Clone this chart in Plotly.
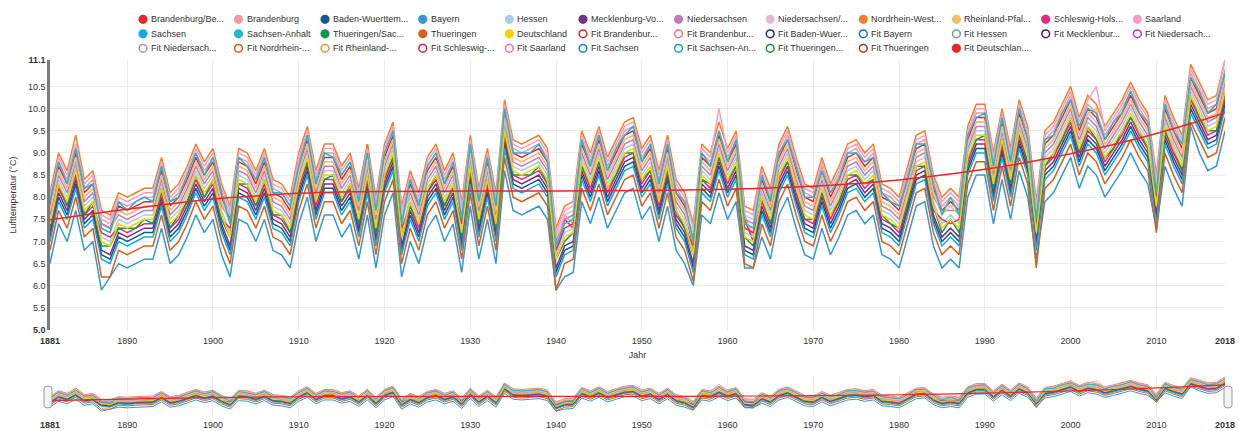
import plotly.graph_objects as go

years = list(range(1881, 2019))

brandenburg_berlin = [
 7.8, 8.7, 8.3, 9.0, 8.1, 8.3, 7.4, 7.3, 7.8, 7.7,
 7.8, 7.9, 7.9, 8.6, 7.8, 8.0, 8.4, 8.9, 8.5, 8.8,
 8.0, 7.5, 8.8, 8.7, 8.3, 8.8, 8.1, 8.0, 7.7, 8.7,
 9.3, 8.3, 8.9, 8.9, 8.4, 8.7, 7.9, 9.2, 7.7, 8.9,
 9.4, 7.5, 8.3, 7.8, 8.6, 8.9, 8.3, 8.7, 7.6, 9.1,
 7.9, 8.8, 7.8, 9.9, 9.0, 8.9, 9.0, 9.1, 8.8, 6.6,
 7.5, 7.3, 9.2, 8.7, 9.3, 8.6, 9.0, 9.4, 9.5, 8.8,
 9.1, 8.3, 9.1, 8.1, 7.8, 6.8, 8.9, 8.7, 9.4, 8.8,
 9.2, 7.5, 7.0, 8.4, 7.9, 8.9, 9.3, 8.6, 8.0, 7.9,
 8.6, 8.0, 8.4, 8.9, 9.0, 8.7, 8.9, 8.0, 7.9, 7.7,
 8.4, 9.1, 9.2, 8.2, 7.7, 7.9, 7.7, 9.3, 9.8, 9.8,
 8.7, 9.7, 8.8, 9.9, 9.3, 7.2, 9.2, 9.4, 9.8, 10.2,
 9.5, 10.0, 9.8, 9.3, 9.6, 9.9, 10.3, 9.9, 9.6, 8.2,
 10.0, 9.5, 9.1, 10.7, 10.3, 9.9, 10.0, 10.8]

brandenburg = [
 7.9, 8.8, 8.4, 9.1, 8.2, 8.4, 7.5, 7.4, 7.9, 7.8,
 7.9, 8.0, 8.0, 8.7, 7.9, 8.1, 8.5, 9.0, 8.6, 8.9,
 8.1, 7.6, 8.9, 8.8, 8.4, 8.9, 8.2, 8.1, 7.8, 8.8,
 9.4, 8.4, 9.0, 9.0, 8.5, 8.8, 8.0, 9.0, 7.8, 9.0,
 9.5, 7.6, 8.4, 7.9, 8.7, 9.0, 8.4, 8.8, 7.7, 9.2,
 8.0, 8.9, 7.9, 10.0, 9.1, 9.0, 9.1, 9.2, 8.9, 6.7,
 7.6, 7.4, 9.3, 8.8, 9.4, 8.7, 9.1, 9.5, 9.6, 8.9,
 9.2, 8.4, 9.2, 8.2, 7.9, 6.9, 9.0, 8.8, 9.5, 8.9,
 9.3, 7.6, 7.1, 8.5, 8.0, 9.0, 9.4, 8.7, 8.1, 8.0,
 8.7, 8.1, 8.5, 9.0, 9.1, 8.8, 9.0, 8.1, 8.0, 7.8,
 8.5, 9.2, 9.3, 8.3, 7.8, 8.0, 7.8, 9.4, 9.9, 9.9,
 8.8, 9.8, 8.9, 10.0, 9.4, 7.3, 9.3, 9.5, 9.9, 10.3,
 9.6, 10.1, 9.9, 9.4, 9.7, 10.0, 10.4, 10.0, 9.7, 8.3,
 10.1, 9.6, 9.2, 10.8, 10.4, 10.0, 10.1, 10.9]

baden_wuerttemberg = [
 7.1, 8.0, 7.6, 8.3, 7.4, 7.6, 6.7, 6.6, 7.1, 7.0,
 7.1, 7.2, 7.2, 7.9, 7.1, 7.3, 7.7, 8.2, 7.8, 8.1,
 7.3, 6.8, 8.1, 8.0, 7.6, 8.1, 7.4, 7.3, 7.0, 8.0,
 8.6, 7.6, 8.2, 8.2, 7.7, 8.0, 7.2, 8.2, 7.0, 8.2,
 8.7, 6.8, 7.6, 7.1, 7.9, 8.2, 7.6, 8.0, 6.9, 8.4,
 7.2, 8.1, 7.1, 9.2, 8.3, 8.2, 8.3, 8.4, 8.1, 6.3,
 6.8, 6.9, 8.5, 8.0, 8.6, 7.9, 8.3, 8.7, 8.8, 8.1,
 8.4, 7.6, 8.4, 7.4, 7.1, 6.4, 8.2, 8.0, 8.7, 8.1,
 8.5, 6.8, 6.7, 7.7, 7.2, 8.2, 8.6, 7.9, 7.3, 7.2,
 7.9, 7.3, 7.7, 8.2, 8.3, 8.0, 8.2, 7.3, 7.2, 7.0,
 7.7, 8.4, 8.5, 7.5, 7.0, 7.2, 7.0, 8.6, 9.1, 9.1,
 8.0, 9.0, 8.1, 9.2, 8.6, 6.9, 8.5, 8.7, 9.1, 9.5,
 8.8, 9.3, 9.1, 8.6, 8.9, 9.2, 9.6, 9.2, 8.9, 7.5,
 9.3, 8.8, 8.4, 10.0, 9.6, 9.2, 9.3, 10.1]

bayern = [
 6.5, 7.4, 7.0, 7.7, 6.8, 7.0, 5.9, 6.2, 6.5, 6.4,
 6.5, 6.6, 6.6, 7.3, 6.5, 6.7, 7.1, 7.6, 7.2, 7.5,
 6.7, 6.2, 7.5, 7.4, 7.0, 7.5, 6.8, 6.7, 6.4, 7.4,
 8.0, 7.0, 7.6, 7.6, 7.1, 7.4, 6.6, 7.6, 6.4, 7.6,
 8.1, 6.2, 7.0, 6.5, 7.3, 7.6, 7.0, 7.4, 6.3, 7.8,
 6.6, 7.5, 6.5, 8.6, 7.7, 7.6, 7.7, 7.8, 7.5, 5.9,
 6.2, 6.3, 7.9, 7.4, 8.0, 7.3, 7.7, 8.1, 8.2, 7.5,
 7.8, 7.0, 7.8, 6.8, 6.5, 6.0, 7.6, 7.4, 8.1, 7.5,
 7.9, 6.4, 6.4, 7.1, 6.6, 7.6, 8.0, 7.3, 6.7, 6.6,
 7.3, 6.7, 7.1, 7.6, 7.7, 7.4, 7.6, 6.7, 6.6, 6.4,
 7.1, 7.8, 7.9, 6.9, 6.4, 6.6, 6.4, 8.0, 8.5, 8.5,
 7.4, 8.4, 7.5, 8.6, 8.0, 6.6, 7.9, 8.1, 8.5, 8.9,
 8.2, 8.7, 8.5, 8.0, 8.3, 8.6, 9.0, 8.6, 8.3, 7.3,
 8.7, 8.2, 7.8, 9.6, 9.0, 8.6, 8.7, 9.5]

hessen = [
 7.5, 8.4, 8.0, 8.7, 7.8, 8.0, 7.1, 7.0, 7.5, 7.4,
 7.5, 7.6, 7.6, 8.3, 7.5, 7.7, 8.1, 8.6, 8.2, 8.5,
 7.7, 7.2, 8.5, 8.4, 8.0, 8.5, 7.8, 7.7, 7.4, 8.4,
 9.0, 8.0, 8.6, 8.6, 8.1, 8.4, 7.6, 8.6, 7.4, 8.6,
 9.1, 7.2, 8.0, 7.5, 8.3, 8.6, 8.0, 8.4, 7.3, 8.8,
 7.6, 8.5, 7.5, 9.6, 8.7, 8.6, 8.7, 8.8, 8.5, 6.7,
 7.2, 7.3, 8.9, 8.4, 9.0, 8.3, 8.7, 9.1, 9.2, 8.5,
 8.8, 8.0, 8.8, 7.8, 7.5, 6.8, 8.6, 8.4, 9.1, 8.5,
 8.9, 7.2, 7.1, 8.1, 7.6, 8.6, 9.0, 8.3, 7.7, 7.6,
 8.3, 7.7, 8.1, 8.6, 8.7, 8.4, 8.6, 7.7, 7.6, 7.4,
 8.1, 8.8, 8.9, 7.9, 7.4, 7.6, 7.4, 9.0, 9.5, 9.5,
 8.4, 9.4, 8.5, 9.6, 9.0, 7.3, 8.9, 9.1, 9.5, 9.9,
 9.2, 9.7, 9.5, 9.0, 9.3, 9.6, 10.0, 9.6, 9.3, 7.9,
 9.7, 9.2, 8.8, 10.4, 10.0, 9.6, 9.7, 10.5]

mecklenburg_vorpommern = [
 7.2, 8.1, 7.7, 8.4, 7.5, 7.7, 6.8, 6.7, 7.2, 7.1,
 7.2, 7.3, 7.3, 8.0, 7.2, 7.4, 7.8, 8.3, 7.9, 8.2,
 7.4, 6.9, 8.2, 8.1, 7.7, 8.2, 7.5, 7.4, 7.1, 8.1,
 8.7, 7.7, 8.3, 8.3, 7.8, 8.1, 7.3, 8.3, 7.1, 8.3,
 8.8, 6.9, 7.7, 7.2, 8.0, 8.3, 7.7, 8.1, 7.0, 8.5,
 7.3, 8.2, 7.2, 9.3, 8.4, 8.3, 8.4, 8.5, 8.2, 6.4,
 6.9, 7.0, 8.6, 8.1, 8.7, 8.0, 8.4, 8.8, 8.9, 8.2,
 8.5, 7.7, 8.5, 7.5, 7.2, 6.5, 8.3, 8.1, 8.8, 8.2,
 8.6, 6.9, 6.8, 7.8, 7.3, 8.3, 8.7, 8.0, 7.4, 7.3,
 8.0, 7.4, 7.8, 8.3, 8.4, 8.1, 8.3, 7.4, 7.3, 7.1,
 7.8, 8.5, 8.6, 7.6, 7.1, 7.3, 7.1, 8.7, 9.2, 9.2,
 8.1, 9.1, 8.2, 9.3, 8.7, 7.0, 8.6, 8.8, 9.2, 9.6,
 8.9, 9.4, 9.2, 8.7, 9.0, 9.3, 9.7, 9.3, 9.0, 7.6,
 9.4, 8.9, 8.5, 10.1, 9.7, 9.3, 9.4, 10.2]

niedersachsen = [
 7.6, 8.5, 8.1, 8.8, 7.9, 8.1, 7.4, 7.3, 7.6, 7.5,
 7.6, 7.7, 7.7, 8.4, 7.6, 7.8, 8.2, 8.7, 8.3, 8.6,
 7.8, 7.5, 8.6, 8.5, 8.1, 8.6, 7.9, 7.8, 7.5, 8.5,
 9.1, 8.1, 8.7, 8.7, 8.2, 8.5, 7.7, 8.7, 7.5, 8.7,
 9.2, 7.5, 8.1, 7.6, 8.4, 8.7, 8.1, 8.5, 7.6, 8.9,
 7.7, 8.6, 7.6, 9.7, 8.8, 8.7, 8.8, 8.9, 8.6, 7.0,
 7.5, 7.6, 9.0, 8.5, 9.1, 8.4, 8.8, 9.2, 9.3, 8.6,
 8.9, 8.1, 8.9, 7.9, 7.6, 7.1, 8.7, 8.5, 9.2, 8.6,
 9.0, 7.5, 7.4, 8.2, 7.7, 8.7, 9.1, 8.4, 7.8, 7.7,
 8.4, 7.8, 8.2, 8.7, 8.8, 8.5, 8.7, 7.8, 7.7, 7.5,
 8.2, 8.9, 9.0, 8.0, 7.7, 7.7, 7.7, 9.1, 9.6, 9.6,
 8.5, 9.5, 8.6, 9.7, 9.1, 7.6, 9.0, 9.2, 9.6, 10.0,
 9.3, 9.8, 9.6, 9.1, 9.4, 9.7, 10.1, 9.7, 9.4, 8.2,
 9.8, 9.3, 8.9, 10.5, 10.1, 9.7, 9.8, 10.6]

niedersachsen_hamburg_bremen = [
 7.7, 8.6, 8.2, 8.9, 8.0, 8.2, 7.5, 7.4, 7.7, 7.6,
 7.7, 7.8, 7.8, 8.5, 7.7, 7.9, 8.3, 8.8, 8.4, 8.7,
 7.9, 7.6, 8.7, 8.6, 8.2, 8.7, 8.0, 7.9, 7.6, 8.6,
 9.2, 8.2, 8.8, 8.8, 8.3, 8.6, 7.8, 8.8, 7.6, 8.8,
 9.3, 7.6, 8.2, 7.7, 8.5, 8.8, 8.2, 8.6, 7.7, 9.0,
 7.8, 8.7, 7.7, 9.8, 8.9, 8.8, 8.9, 9.0, 8.7, 7.1,
 7.6, 7.7, 9.1, 8.6, 9.2, 8.5, 8.9, 9.3, 9.4, 8.7,
 9.0, 8.2, 9.0, 8.0, 7.7, 7.2, 8.8, 8.6, 9.3, 8.7,
 9.1, 7.6, 7.5, 8.3, 7.8, 8.8, 9.2, 8.5, 7.9, 7.8,
 8.5, 7.9, 8.3, 8.8, 8.9, 8.6, 8.8, 7.9, 7.8, 7.6,
 8.3, 9.0, 9.1, 8.1, 7.8, 7.8, 7.8, 9.2, 9.7, 9.7,
 8.6, 9.6, 8.7, 9.8, 9.2, 7.7, 9.1, 9.3, 9.7, 10.1,
 9.4, 9.9, 9.7, 9.2, 9.5, 9.8, 10.2, 9.8, 9.5, 8.3,
 9.9, 9.4, 9.0, 10.6, 10.2, 9.8, 9.9, 10.7]

nordrhein_westfalen = [
 8.1, 9.0, 8.6, 9.4, 8.4, 8.6, 7.7, 7.6, 8.1, 8.0,
 8.1, 8.2, 8.2, 8.9, 8.1, 8.3, 8.7, 9.2, 8.8, 9.1,
 8.3, 7.8, 9.1, 9.0, 8.6, 9.1, 8.4, 8.3, 8.0, 9.0,
 9.6, 8.6, 9.2, 9.2, 8.7, 9.0, 8.2, 9.2, 8.0, 9.2,
 9.7, 7.8, 8.6, 8.1, 8.9, 9.2, 8.6, 9.0, 7.9, 9.4,
 8.2, 9.1, 8.1, 10.2, 9.3, 9.2, 9.3, 9.4, 9.1, 7.3,
 7.8, 7.9, 9.5, 9.0, 9.6, 8.9, 9.3, 9.7, 9.8, 9.1,
 9.4, 8.6, 9.4, 8.4, 8.1, 7.4, 9.2, 9.0, 9.7, 9.1,
 9.5, 7.8, 7.7, 8.7, 8.2, 9.2, 9.6, 8.9, 8.3, 8.2,
 8.9, 8.3, 8.7, 9.2, 9.3, 9.0, 9.2, 8.3, 8.2, 8.0,
 8.7, 9.4, 9.5, 8.5, 8.0, 8.2, 8.0, 9.6, 10.1, 10.1,
 9.0, 10.0, 9.1, 10.2, 9.6, 7.9, 9.5, 9.7, 10.1, 10.5,
 9.8, 10.3, 10.1, 9.6, 9.9, 10.2, 10.6, 10.2, 9.9, 8.5,
 10.3, 9.8, 9.4, 11.0, 10.6, 10.2, 10.3, 11.1]

rheinland_pfalz = [
 7.7, 8.6, 8.2, 8.9, 8.0, 8.2, 7.3, 7.2, 7.7, 7.6,
 7.7, 7.8, 7.8, 8.5, 7.7, 7.9, 8.3, 8.8, 8.4, 8.7,
 7.9, 7.4, 8.7, 8.6, 8.2, 8.7, 8.0, 7.9, 7.6, 8.6,
 9.2, 8.2, 8.8, 8.8, 8.3, 8.6, 7.8, 8.8, 7.6, 8.8,
 9.3, 7.4, 8.2, 7.7, 8.5, 8.8, 8.2, 8.6, 7.5, 9.0,
 7.8, 8.7, 7.7, 9.8, 8.9, 8.8, 8.9, 9.0, 8.7, 7.1,
 7.4, 7.5, 9.1, 8.6, 9.2, 8.5, 8.9, 9.3, 9.4, 8.7,
 9.0, 8.2, 9.0, 8.0, 7.7, 7.0, 8.8, 8.6, 9.3, 8.7,
 9.1, 7.4, 7.3, 8.3, 7.8, 8.8, 9.2, 8.5, 7.9, 7.8,
 8.5, 7.9, 8.3, 8.8, 8.9, 8.6, 8.8, 7.9, 7.8, 7.6,
 8.3, 9.0, 9.1, 8.1, 7.6, 7.8, 7.6, 9.2, 9.7, 9.7,
 8.6, 9.6, 8.7, 9.8, 9.2, 7.5, 9.1, 9.3, 9.7, 10.1,
 9.4, 9.9, 10.0, 9.2, 9.5, 9.8, 10.2, 9.8, 9.5, 8.1,
 9.9, 9.4, 9.0, 10.6, 10.2, 9.8, 9.9, 10.7]

schleswig_holstein = [
 7.3, 8.2, 7.8, 8.5, 7.6, 7.8, 7.2, 7.1, 7.3, 7.2,
 7.3, 7.4, 7.4, 8.1, 7.3, 7.5, 7.9, 8.4, 8.0, 8.3,
 7.5, 7.3, 8.3, 8.2, 7.8, 8.3, 7.6, 7.5, 7.2, 8.2,
 8.8, 7.8, 8.4, 8.4, 7.9, 8.2, 7.4, 8.4, 7.2, 8.4,
 8.9, 7.3, 7.8, 7.3, 8.1, 8.4, 7.8, 8.2, 7.4, 8.6,
 7.4, 8.3, 7.3, 9.4, 8.5, 8.4, 8.5, 8.6, 8.3, 6.8,
 7.3, 7.4, 8.7, 8.2, 8.8, 8.1, 8.5, 8.9, 9.0, 8.3,
 8.6, 7.8, 8.6, 7.6, 7.3, 6.9, 8.4, 8.2, 8.9, 8.3,
 8.7, 7.3, 7.2, 7.9, 7.4, 8.4, 8.8, 8.1, 7.5, 7.4,
 8.1, 7.5, 7.9, 8.4, 8.5, 8.2, 8.4, 7.5, 7.4, 7.2,
 7.9, 8.6, 8.7, 7.7, 7.5, 7.4, 7.5, 8.8, 9.3, 9.3,
 8.2, 9.2, 8.3, 9.4, 8.8, 7.4, 8.7, 8.9, 9.3, 9.7,
 9.0, 9.5, 9.3, 8.8, 9.1, 9.4, 9.8, 9.4, 9.1, 8.0,
 9.5, 9.0, 8.6, 10.2, 9.8, 9.4, 9.5, 10.3]

saarland = [
 8.0, 8.9, 8.5, 9.2, 8.3, 8.5, 7.6, 7.5, 8.0, 7.9,
 8.0, 8.1, 8.1, 8.8, 8.0, 8.2, 8.6, 9.1, 8.7, 9.0,
 8.2, 7.7, 9.0, 8.9, 8.5, 9.0, 8.3, 8.2, 7.9, 8.9,
 9.5, 8.5, 9.1, 9.1, 8.6, 8.9, 8.1, 9.1, 7.9, 9.1,
 9.6, 7.7, 8.5, 8.0, 8.8, 9.1, 8.5, 8.9, 7.8, 9.3,
 8.1, 9.0, 8.0, 10.1, 9.2, 9.1, 9.2, 9.3, 9.0, 7.2,
 7.7, 7.8, 9.4, 8.9, 9.5, 8.8, 9.2, 9.6, 9.7, 9.0,
 9.3, 8.5, 9.3, 8.3, 8.0, 7.3, 9.1, 8.9, 10.0, 9.0,
 9.4, 7.7, 7.6, 8.6, 8.1, 9.1, 9.5, 8.8, 8.2, 8.1,
 8.8, 8.2, 8.6, 9.1, 9.2, 8.9, 9.1, 8.2, 8.1, 7.9,
 8.6, 9.3, 9.4, 8.4, 7.9, 8.1, 7.9, 9.5, 10.0, 10.0,
 8.9, 9.9, 9.0, 10.1, 9.5, 7.8, 9.4, 9.6, 10.0, 10.4,
 9.7, 10.2, 10.5, 9.5, 9.8, 10.1, 10.5, 10.1, 9.8, 8.4,
 10.2, 9.7, 9.3, 10.9, 10.5, 10.1, 10.2, 11.1]

sachsen = [
 7.0, 7.9, 7.5, 8.2, 7.3, 7.5, 6.6, 6.5, 7.0, 6.9,
 7.0, 7.1, 7.1, 7.8, 7.0, 7.2, 7.6, 8.1, 7.7, 8.0,
 7.2, 6.7, 8.0, 7.9, 7.5, 8.0, 7.3, 7.2, 6.9, 7.9,
 8.5, 7.5, 8.1, 8.1, 7.6, 7.9, 7.1, 8.1, 6.9, 8.1,
 8.6, 6.7, 7.5, 7.0, 7.8, 8.1, 7.5, 7.9, 6.8, 8.3,
 7.1, 8.0, 7.0, 9.1, 8.2, 8.1, 8.2, 8.3, 8.0, 6.2,
 6.7, 6.8, 8.4, 7.9, 8.5, 7.8, 8.2, 8.6, 8.7, 8.0,
 8.3, 7.5, 8.3, 7.3, 7.0, 6.3, 8.1, 7.9, 8.6, 8.0,
 8.4, 6.7, 6.6, 7.6, 7.1, 8.1, 8.5, 7.8, 7.2, 7.1,
 7.8, 7.2, 7.6, 8.1, 8.2, 7.9, 8.1, 7.2, 7.1, 6.9,
 7.6, 8.3, 8.4, 7.4, 6.9, 7.1, 6.9, 8.5, 9.0, 9.0,
 7.9, 8.9, 8.0, 9.1, 8.5, 6.8, 8.4, 8.6, 9.0, 9.4,
 8.7, 9.2, 9.0, 8.5, 8.8, 9.1, 9.5, 9.1, 8.8, 7.4,
 9.2, 8.7, 8.3, 9.9, 9.5, 9.1, 9.2, 10.0]

sachsen_anhalt = [
 7.9, 8.8, 8.3, 9.1, 8.2, 8.3, 7.3, 7.2, 7.9, 7.7,
 7.9, 8.0, 7.9, 8.7, 7.9, 8.0, 8.5, 9.0, 8.5, 8.9,
 8.1, 7.4, 8.9, 8.7, 8.4, 8.9, 8.1, 8.1, 7.8, 8.7,
 9.4, 8.3, 9.0, 8.9, 8.5, 8.8, 7.9, 9.0, 7.7, 9.0,
 9.5, 7.4, 8.4, 7.8, 8.7, 9.0, 8.3, 8.8, 7.5, 9.2,
 7.9, 8.9, 7.8, 10.0, 9.0, 9.0, 9.0, 9.2, 8.8, 6.9,
 7.4, 7.5, 9.3, 8.7, 9.4, 8.6, 9.1, 9.4, 9.6, 8.8,
 9.2, 8.3, 9.2, 8.1, 7.9, 7.0, 9.0, 8.7, 9.5, 8.8,
 9.3, 7.4, 7.3, 8.5, 7.9, 9.0, 9.3, 8.7, 8.0, 8.0,
 8.6, 8.1, 8.4, 9.0, 9.0, 8.8, 8.9, 8.1, 7.9, 7.8,
 8.4, 9.2, 9.2, 8.3, 7.6, 8.0, 7.6, 9.4, 9.8, 9.9,
 8.7, 9.8, 8.8, 10.0, 9.3, 7.5, 9.3, 9.4, 9.9, 10.2,
 9.6, 10.0, 9.9, 9.3, 9.7, 9.9, 10.4, 9.9, 9.7, 8.1,
 10.1, 9.5, 9.2, 10.7, 10.4, 9.9, 10.1, 10.8]

thueringen_sachsen_anhalt = [
 7.3, 8.3, 7.8, 8.6, 7.6, 7.9, 6.9, 6.9, 7.3, 7.3,
 7.3, 7.5, 7.4, 8.2, 7.3, 7.6, 7.9, 8.5, 8.0, 8.4,
 7.5, 7.1, 8.3, 8.3, 7.8, 8.4, 7.6, 7.6, 7.2, 8.3,
 8.8, 7.9, 8.4, 8.5, 7.9, 8.3, 7.4, 8.5, 7.2, 8.5,
 8.9, 7.1, 7.8, 7.4, 8.1, 8.5, 7.8, 8.3, 7.1, 8.7,
 7.4, 8.4, 7.3, 9.5, 8.5, 8.5, 8.5, 8.7, 8.3, 6.6,
 7.0, 7.2, 8.7, 8.3, 8.8, 8.2, 8.5, 9.0, 9.0, 8.4,
 8.6, 7.9, 8.6, 7.7, 7.3, 6.7, 8.4, 8.3, 8.9, 8.4,
 8.7, 7.1, 6.9, 8.0, 7.4, 8.5, 8.8, 8.2, 7.5, 7.5,
 8.1, 7.6, 7.9, 8.5, 8.5, 8.3, 8.4, 7.6, 7.4, 7.3,
 7.9, 8.7, 8.7, 7.8, 7.2, 7.5, 7.2, 8.9, 9.3, 9.4,
 8.2, 9.3, 8.3, 9.5, 8.8, 7.2, 8.7, 9.0, 9.3, 9.8,
 9.0, 9.6, 9.3, 8.9, 9.1, 9.5, 9.8, 9.5, 9.1, 7.8,
 9.5, 9.1, 8.6, 10.3, 9.8, 9.5, 9.5, 10.4]

thueringen = [
 6.8, 7.7, 7.3, 8.0, 7.1, 7.3, 6.2, 6.2, 6.8, 6.7,
 6.8, 6.9, 6.9, 7.6, 6.8, 7.0, 7.4, 7.9, 7.5, 7.8,
 7.0, 6.5, 7.8, 7.7, 7.3, 7.8, 7.1, 7.0, 6.7, 7.7,
 8.3, 7.3, 7.9, 7.9, 7.4, 7.7, 6.9, 7.9, 6.7, 7.9,
 8.4, 6.5, 7.3, 6.8, 7.6, 7.9, 7.3, 7.7, 6.6, 8.1,
 6.9, 7.8, 6.8, 8.9, 8.0, 7.9, 8.0, 8.1, 7.8, 5.9,
 6.5, 6.6, 8.2, 7.7, 8.3, 7.6, 8.0, 8.4, 8.5, 7.8,
 8.1, 7.3, 8.1, 7.1, 6.8, 6.1, 7.9, 7.7, 8.4, 7.8,
 8.2, 6.5, 6.4, 7.4, 6.9, 7.9, 8.3, 7.6, 7.0, 6.9,
 7.6, 7.0, 7.4, 7.9, 8.0, 7.7, 7.9, 7.0, 6.9, 6.7,
 7.4, 8.1, 8.2, 7.2, 6.7, 6.9, 6.7, 8.3, 8.8, 8.8,
 7.7, 8.7, 7.8, 8.9, 8.3, 6.4, 8.2, 8.4, 8.8, 9.2,
 8.5, 9.0, 8.8, 8.3, 8.6, 8.9, 9.3, 8.9, 8.6, 7.2,
 9.0, 8.5, 8.1, 9.7, 9.3, 8.9, 9.0, 9.8]

deutschland = [
 7.4, 8.3, 7.9, 8.6, 7.7, 7.9, 7.0, 6.9, 7.4, 7.3,
 7.4, 7.5, 7.5, 8.2, 7.4, 7.6, 8.0, 8.5, 8.1, 8.4,
 7.6, 7.1, 8.4, 8.3, 7.9, 8.4, 7.7, 7.6, 7.3, 8.3,
 8.9, 7.9, 8.5, 8.5, 8.0, 8.3, 7.5, 8.5, 7.3, 8.5,
 9.0, 7.1, 7.9, 7.4, 8.2, 8.5, 7.9, 8.3, 7.2, 8.7,
 7.5, 8.4, 7.4, 9.5, 8.6, 8.5, 8.6, 8.7, 8.4, 6.6,
 7.1, 7.2, 8.8, 8.3, 8.9, 8.2, 8.6, 9.0, 9.1, 8.4,
 8.7, 7.9, 8.7, 7.7, 7.4, 6.7, 8.5, 8.3, 9.0, 8.4,
 8.8, 7.1, 7.0, 8.0, 7.5, 8.5, 8.9, 8.2, 7.6, 7.5,
 8.2, 7.6, 8.0, 8.5, 8.6, 8.3, 8.5, 7.6, 7.5, 7.3,
 8.0, 8.7, 8.8, 7.8, 7.3, 7.5, 7.3, 8.9, 9.4, 9.4,
 8.3, 9.3, 8.4, 9.5, 8.9, 7.2, 8.8, 9.0, 9.4, 9.8,
 9.1, 9.6, 9.4, 8.9, 9.2, 9.5, 9.9, 9.5, 9.2, 7.8,
 9.6, 9.1, 8.7, 10.3, 9.9, 9.5, 9.6, 10.4]

fit_years = [1881, 1885, 1890, 1895, 1900, 1905, 1910, 1915, 1920, 1930, 1940,
             1950, 1960, 1965, 1970, 1975, 1980, 1985, 1990, 1995, 2000, 2005,
             2010, 2015, 2018]
fit_deutschland = [7.49, 7.60, 7.73, 7.85, 7.96, 8.03, 8.09, 8.12, 8.13, 8.14, 8.14,
                   8.15, 8.18, 8.21, 8.25, 8.31, 8.39, 8.50, 8.63, 8.79, 8.98, 9.19,
                   9.44, 9.72, 9.91]

series_names = ["Brandenburg/Berlin", "Brandenburg", "Baden-Wuerttemberg", "Bayern", "Hessen",
                "Mecklenburg-Vorpommern", "Niedersachsen", "Niedersachsen/Hamburg/Bremen",
                "Nordrhein-Westfalen", "Rheinland-Pfalz", "Schleswig-Holstein", "Saarland",
                "Sachsen", "Sachsen-Anhalt", "Thueringen/Sachsen-Anhalt", "Thueringen", "Deutschland"]
series_values = [brandenburg_berlin, brandenburg, baden_wuerttemberg, bayern, hessen,
                 mecklenburg_vorpommern, niedersachsen, niedersachsen_hamburg_bremen,
                 nordrhein_westfalen, rheinland_pfalz, schleswig_holstein, saarland,
                 sachsen, sachsen_anhalt, thueringen_sachsen_anhalt, thueringen, deutschland]
series_colors = ["#e7262e", "#f29a9b", "#135a8b", "#3399d4", "#a9cde9", "#7b2f7f", "#c47ab8",
                 "#e3b8d8", "#f07f2c", "#f9b96f", "#e5297f", "#f49ec4", "#14aae3", "#1cb9d4",
                 "#0e9a4a", "#d4601e", "#f8d000"]

legend_labels = ["Brandenburg/Be...", "Brandenburg", "Baden-Wuerttem...", "Bayern", "Hessen",
                 "Mecklenburg-Vo...", "Niedersachsen", "Niedersachsen/...", "Nordrhein-West...",
                 "Rheinland-Pfal...", "Schleswig-Hols...", "Saarland",
                 "Sachsen", "Sachsen-Anhalt", "Thueringen/Sac...", "Thueringen", "Deutschland",
                 "Fit Brandenbur...", "Fit Brandenbur...", "Fit Baden-Wuer...", "Fit Bayern",
                 "Fit Hessen", "Fit Mecklenbur...", "Fit Niedersach...",
                 "Fit Niedersach...", "Fit Nordrhein-...", "Fit Rheinland-...", "Fit Schleswig-...",
                 "Fit Saarland", "Fit Sachsen", "Fit Sachsen-An...", "Fit Thueringen...",
                 "Fit Thueringen", "Fit Deutschlan..."]
fit_colors = ["#d9262e", "#f07070", "#1d2f5f", "#1b6fae", "#6e9cc4", "#4b1a4d", "#9d4fad",
              "#b98ac4", "#e4571f", "#f0973a", "#d41f62", "#e774a8", "#1a85c8", "#16a5b8",
              "#1f8a45", "#a8352a", "#e8262b"]
legend_colors = series_colors + fit_colors
legend_filled = [True] * 17 + [False] * 16 + [True]

FONT = "Liberation Sans, Arial, Helvetica, sans-serif"
W, H = 1239, 431
ML, MR, MT, MB = 50, 14, 60, 14
PW = W - ML - MR
PH = H - MT - MB

def px_x(px):
    return (px - ML) / PW

def px_y(py):
    return (H - MB - py) / PH

fig = go.Figure()

for name, vals, col in zip(series_names, series_values, series_colors):
    fig.add_trace(go.Scatter(x=years, y=vals, mode="lines", name=name,
                             line=dict(color=col, width=1.5), showlegend=False,
                             xaxis="x", yaxis="y"))
fig.add_trace(go.Scatter(x=fit_years, y=fit_deutschland, mode="lines", name="Fit Deutschland",
                         line=dict(color="#e8262b", width=1.5, shape="spline"),
                         showlegend=False, xaxis="x", yaxis="y"))

for name, vals, col in zip(series_names, series_values, series_colors):
    fig.add_trace(go.Scatter(x=years, y=vals, mode="lines", name=name,
                             line=dict(color=col, width=1), showlegend=False,
                             xaxis="x2", yaxis="y2", hoverinfo="skip"))
fig.add_trace(go.Scatter(x=fit_years, y=fit_deutschland, mode="lines", name="Fit Deutschland",
                         line=dict(color="#e8262b", width=1.2, shape="spline"),
                         showlegend=False, xaxis="x2", yaxis="y2", hoverinfo="skip"))

xtickvals = [1881, 1890, 1900, 1910, 1920, 1930, 1940, 1950, 1960, 1970, 1980, 1990, 2000, 2010, 2018]
xticktext = ["<b>1881</b>"] + [str(v) for v in xtickvals[1:-1]] + ["<b>2018</b>"]
ytickvals = [5.0, 5.5, 6.0, 6.5, 7.0, 7.5, 8.0, 8.5, 9.0, 9.5, 10.0, 10.5, 11.1]
yticktext = ["<b>5.0</b>"] + ["%.1f" % v for v in ytickvals[1:-1]] + ["<b>11.1</b>"]

main_bottom = px_y(330)
sub_top = px_y(377)

TICKFONT = dict(size=9, color="#333333")

fig.update_layout(
    width=W, height=H,
    margin=dict(l=ML, r=MR, t=MT, b=MB, autoexpand=False),
    paper_bgcolor="white", plot_bgcolor="white",
    font=dict(family=FONT, size=9, color="#333333"),
    showlegend=False,
    xaxis=dict(domain=[0, 1], anchor="y", range=[1881, 2018], tickvals=xtickvals,
               ticktext=xticktext, showgrid=True, gridcolor="#ebebeb", gridwidth=1,
               zeroline=False, showline=False, ticks="", automargin=False,
               ticklabelstandoff=4, tickfont=TICKFONT,
               title=dict(text="Jahr", font=dict(size=9), standoff=6)),
    yaxis=dict(domain=[main_bottom, 1], anchor="x", range=[5.0, 11.1], tickvals=ytickvals,
               ticktext=yticktext, showgrid=True, gridcolor="#ebebeb", gridwidth=1,
               zeroline=False, showline=True, linecolor="#7a7a7a", linewidth=2.5,
               ticks="", automargin=False, tickfont=TICKFONT,
               title=dict(text="Lufttemperatur (°C)", font=dict(size=9), standoff=10)),
    xaxis2=dict(domain=[0, 1], anchor="y2", range=[1881, 2018], tickvals=xtickvals,
                ticktext=xticktext, showgrid=True, gridcolor="#ebebeb", zeroline=False,
                showline=False, ticks="", automargin=False, ticklabelstandoff=1,
                tickfont=TICKFONT),
    yaxis2=dict(domain=[0, sub_top], anchor="x2", range=[5.0, 11.1], showticklabels=False,
                showgrid=False, zeroline=False, showline=False, ticks="", automargin=False),
)

shapes = []
annotations = []
col_px = [143, 238.5, 325, 422.8, 509.3, 583, 678.5, 770.2, 863.3, 956.4, 1045.7, 1137.4]
row_py = [19.3, 33.8, 48.3]
for i, (lab, colr, filled) in enumerate(zip(legend_labels, legend_colors, legend_filled)):
    r, c = divmod(i, 12)
    cx, cy = col_px[c], row_py[r]
    if filled:
        shapes.append(dict(type="circle", xref="paper", yref="paper",
                           xsizemode="pixel", ysizemode="pixel",
                           xanchor=px_x(cx), yanchor=px_y(cy),
                           x0=-4.6, x1=4.6, y0=-4.6, y1=4.6,
                           fillcolor=colr, line=dict(color=colr, width=0)))
    else:
        shapes.append(dict(type="circle", xref="paper", yref="paper",
                           xsizemode="pixel", ysizemode="pixel",
                           xanchor=px_x(cx), yanchor=px_y(cy),
                           x0=-3.9, x1=3.9, y0=-3.9, y1=3.9,
                           fillcolor="white", line=dict(color=colr, width=1.5)))
    annotations.append(dict(text=lab, xref="paper", yref="paper", x=px_x(cx + 6), y=px_y(cy),
                            xanchor="left", yanchor="middle", showarrow=False,
                            font=dict(size=9, color="#333333")))

for hx in (48, 1228):
    shapes.append(dict(type="path", xref="paper", yref="paper",
                       xsizemode="pixel", ysizemode="pixel",
                       xanchor=px_x(hx), yanchor=px_y(397),
                       path="M -4 -8 Q -4 -11 0 -11 Q 4 -11 4 -8 L 4 8 Q 4 11 0 11 Q -4 11 -4 8 Z",
                       fillcolor="#f4f4f4", line=dict(color="#9a9a9a", width=1)))

fig.update_layout(shapes=shapes, annotations=annotations)

fig.write_html("out.html", config={"displayModeBar": False},
               post_script="document.body.style.margin='0';document.body.style.overflow='hidden';")
